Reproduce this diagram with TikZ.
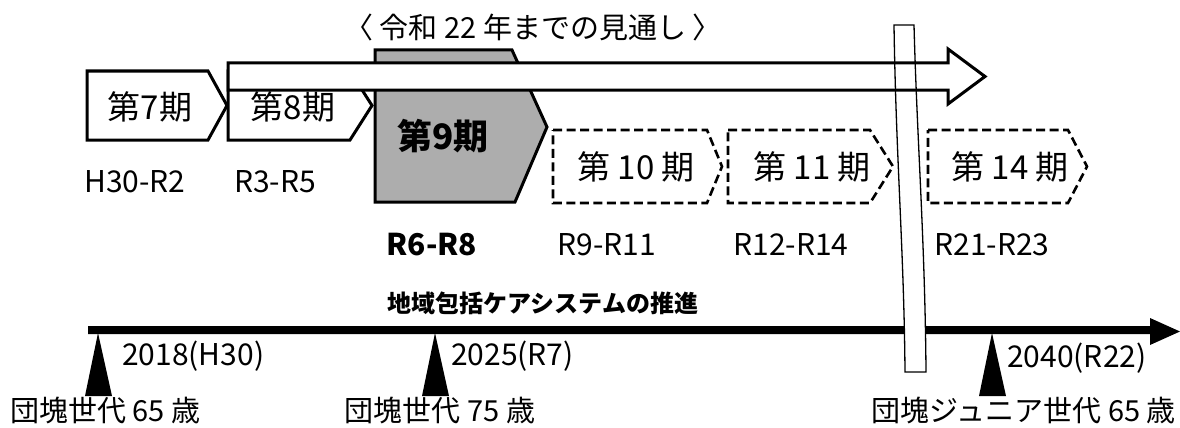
\documentclass[tikz,border=0pt]{standalone}
\usepackage{fontspec}
\setmainfont{Noto Sans CJK JP}
\begin{document}
\begin{tikzpicture}[x=1pt,y=-1pt,
  pent/.style={draw=black, line width=3pt, line join=miter, fill=white},
  graypent/.style={draw=black, line width=3pt, line join=miter, fill=black!32},
  dpent/.style={draw=black, line width=2.6pt, dash pattern=on 9pt off 4.5pt, fill=white},
  bigarrow/.style={draw=black, line width=3pt, line join=miter},
  band/.style={draw=black, line width=1.3pt, fill=white},
  per/.style={font=\fontsize{33}{36}\selectfont, inner sep=0pt},
  perb/.style={font=\fontsize{35}{38}\selectfont\bfseries, inner sep=0pt},
  lbl/.style={font=\fontsize{30}{33}\selectfont, inner sep=0pt},
  lblb/.style={font=\fontsize{30}{33}\selectfont\bfseries, inner sep=0pt},
  gen/.style={font=\fontsize{29}{32}\selectfont, inner sep=0pt},
  ttl/.style={font=\fontsize{29}{32}\selectfont, inner sep=0pt},
  trimark/.style={fill=black}]
\useasboundingbox (0,0) rectangle (1180,428);

% title
\node[ttl] (title) at (533,27) {〈 令和 22 年までの見通し 〉};

% period shapes
\draw[pent] (87,71) -- (208,71) -- (227,105.5) -- (208,140) -- (87,140) -- cycle;
\draw[pent] (228,71) -- (350,71) -- (372,105.5) -- (350,140) -- (228,140) -- cycle;
\draw[graypent] (375,50) -- (512,50) -- (547,127) -- (515,202) -- (375,202) -- cycle;

% big arrow (fill)
\fill[white] (228,63) -- (948,63) -- (948,49) -- (985,76.5) -- (948,104) -- (948,90) -- (228,90) -- cycle;

% dashed future periods
\draw[dpent] (553,130) -- (707,130) -- (722,166.5) -- (707,203) -- (553,203) -- cycle;
\draw[dpent] (728,130) -- (870,130) -- (893,166.5) -- (870,203) -- (728,203) -- cycle;
\draw[dpent] (928,130) -- (1068,130) -- (1087,166.5) -- (1068,203) -- (928,203) -- cycle;

% timeline
\coordinate (tlA) at (88,330);
\coordinate (tlB) at (1180,331.5);
\fill (tlA) ++(0,-4) -- (1150,326) -- (1150,318) -- (tlB) -- (1150,345) -- (1150,334) -- (88,334) -- cycle;

% break band
\draw[band] (894,25) -- (914,25) .. controls (917,140) and (925,240) .. (926,372)
  -- (905,372) .. controls (904,250) and (896,160) .. (894,25) -- cycle;

% big arrow outline on top
\draw[bigarrow] (228,63) -- (948,63) -- (948,49) -- (985,76.5) -- (948,104) -- (948,90) -- (228,90) -- cycle;

% markers
\fill[trimark] (98,333) -- (112,396) -- (85,396) -- cycle;
\fill[trimark] (435,333) -- (449,396) -- (422,396) -- cycle;
\fill[trimark] (992,333) -- (1006,396) -- (979,396) -- cycle;

% period texts
\node[per] (p7) at (150,107) {第7期};
\node[per] (p8) at (293,107) {第8期};
\node[perb] (p9) at (443,136) {第9期};
\node[per] (p10) at (636,167) {第 10 期};
\node[per] (p11) at (812,167) {第 11 期};
\node[per] (p14) at (1010,167) {第 14 期};

% year ranges
\node[lbl] (y7) at (135,182) {H30-R2};
\node[lbl] (y8) at (275,182) {R3-R5};
\node[lblb] (y9) at (432,245) {R6-R8};
\node[lbl] (y10) at (607,245) {R9-R11};
\node[lbl] (y11) at (791,245) {R12-R14};
\node[lbl] (y14) at (992,245) {R21-R23};

% timeline texts
\node[font=\fontsize{24}{27}\selectfont\bfseries, inner sep=0pt] (promo) at (543,303) {地域包括ケアシステムの推進};
\node[lbl, anchor=west] (d1) at (122,356) {2018(H30)};
\node[lbl, anchor=west] (d2) at (451,356) {2025(R7)};
\node[lbl, anchor=west] (d3) at (1007,358) {2040(R22)};
\node[gen, anchor=west] (g1) at (10,411) {団塊世代 65 歳};
\node[gen] (g2) at (440,411) {団塊世代 75 歳};
\node[gen, anchor=east] (g3) at (1176,411) {団塊ジュニア世代 65 歳};
\end{tikzpicture}
\end{document}
